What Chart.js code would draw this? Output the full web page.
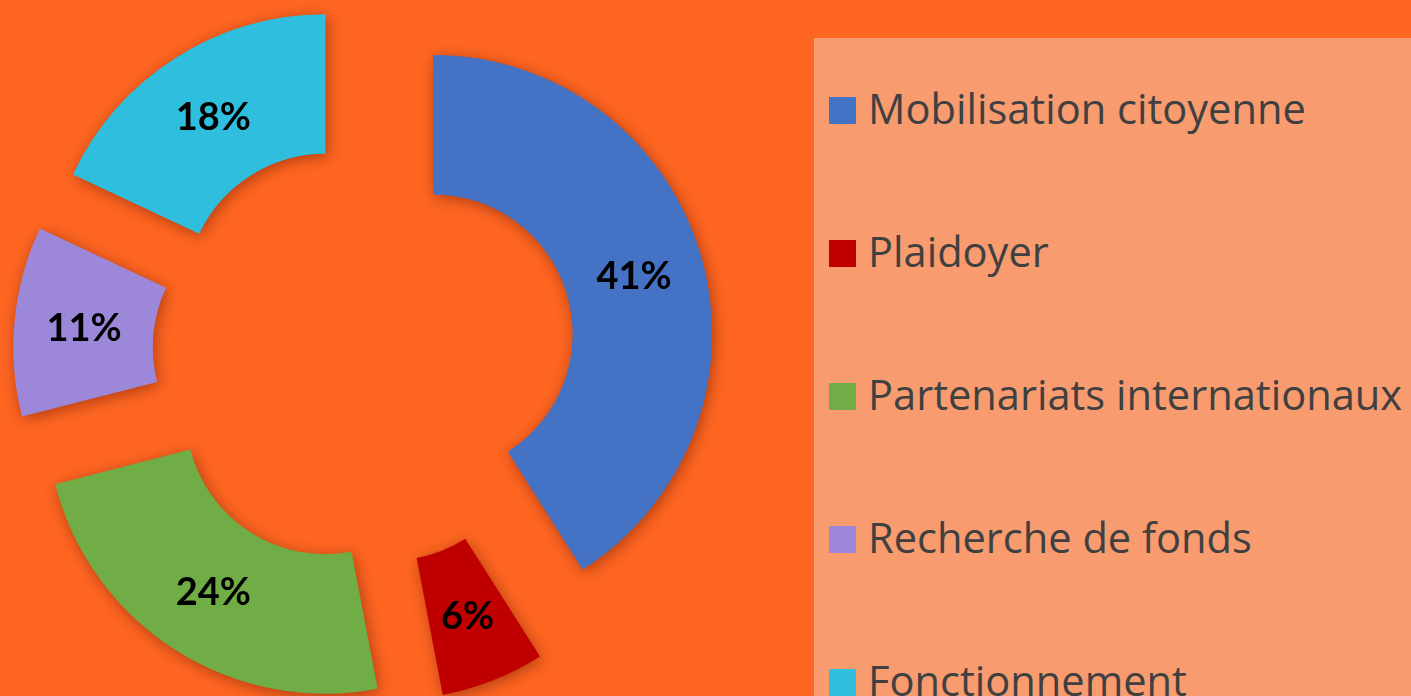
<!DOCTYPE html>
<html><head><meta charset="utf-8">
<script src="https://cdn.jsdelivr.net/npm/chart.js@4.4.0/dist/chart.umd.min.js"></script>
<style>
html,body{margin:0;padding:0;width:1411px;height:696px;overflow:hidden;background:#FF6622;}
#chartBox{position:absolute;left:0;top:0;width:1411px;height:696px;}
#legend{position:absolute;left:814px;top:38px;width:597px;height:658px;background:#F89B6F;overflow:hidden;}
.sw{position:absolute;left:15px;width:27px;height:27px;}
.tx{position:absolute;left:54px;font-family:"Open Sans",sans-serif;font-size:41.6px;line-height:normal;color:#404040;white-space:nowrap;}
</style></head>
<body>
<div id="chartBox"><canvas id="c" width="1411" height="696"></canvas></div>
<div id="legend"></div>
<script>
const categories = ["Mobilisation citoyenne","Plaidoyer","Partenariats internationaux","Recherche de fonds","Fonctionnement"];
const shares = [41, 6, 24, 11, 18];
const sliceColors = ["#4472C4","#C00000","#70AD47","#9C87D9","#2FBEDD"];

const EXPLODE = 72;

// pull each slice out of the centre along its mid-angle (keeps radii unchanged)
const explodePlugin = {
  id:'explode',
  afterDatasetUpdate(chart, args){
    args.meta.data.forEach(arc=>{
      const mid = (arc.startAngle + arc.endAngle)/2;
      arc.x = arc.x + Math.cos(mid)*EXPLODE;
      arc.y = arc.y + Math.sin(mid)*EXPLODE;
    });
  }
};
const shadowPlugin = {
  id:'sliceShadow',
  beforeDatasetsDraw(chart){ const c=chart.ctx; c.save(); c.shadowColor='rgba(110,30,0,0.55)'; c.shadowBlur=15; c.shadowOffsetX=2; c.shadowOffsetY=3; },
  afterDatasetsDraw(chart){ chart.ctx.restore(); }
};
const labelPlugin = {
  id:'sliceLabels',
  afterDraw(chart){
    const ctx = chart.ctx;
    const meta = chart.getDatasetMeta(0);
    ctx.save();
    ctx.font = 'bold 38px Lato, sans-serif';
    ctx.fillStyle = '#000';
    ctx.textAlign = 'center'; ctx.textBaseline = 'middle';
    meta.data.forEach((arc,i)=>{
      const mid = (arc.startAngle+arc.endAngle)/2;
      const r = (arc.innerRadius+arc.outerRadius)/2;
      ctx.fillText(chart.data.datasets[0].data[i]+'%', arc.x+Math.cos(mid)*r, arc.y+Math.sin(mid)*r + 1);
    });
    ctx.restore();
  }
};

const chart = new Chart(document.getElementById('c'), {
  type:'doughnut',
  data:{ labels:categories, datasets:[{ data:shares, backgroundColor:sliceColors, borderWidth:0, offset:0, hoverOffset:0 }]},
  options:{
    responsive:false, animation:false, cutout:'50%', radius:279,
    layout:{ padding:{ left:49.5, right:732.5, top:39.5, bottom:27.5 } },
    events:[],
    plugins:{ legend:{display:false}, tooltip:{enabled:false} }
  },
  plugins:[explodePlugin, shadowPlugin, labelPlugin]
});

// HTML legend built from the chart's own labels/colours
const lg = document.getElementById('legend');
const ascent = 1.069 * 41.6; // Open Sans ascent
chart.data.labels.forEach((name,i)=>{
  const boxTop = 97 + i*143 - 38;      // relative to legend box
  const baseline = boxTop + 27;
  const sw = document.createElement('div'); sw.className='sw';
  sw.style.top = boxTop + 'px';
  sw.style.background = chart.data.datasets[0].backgroundColor[i];
  const tx = document.createElement('div'); tx.className='tx';
  tx.style.top = (baseline - ascent) + 'px';
  tx.textContent = name;
  lg.appendChild(sw); lg.appendChild(tx);
});
</script>
</body></html>
